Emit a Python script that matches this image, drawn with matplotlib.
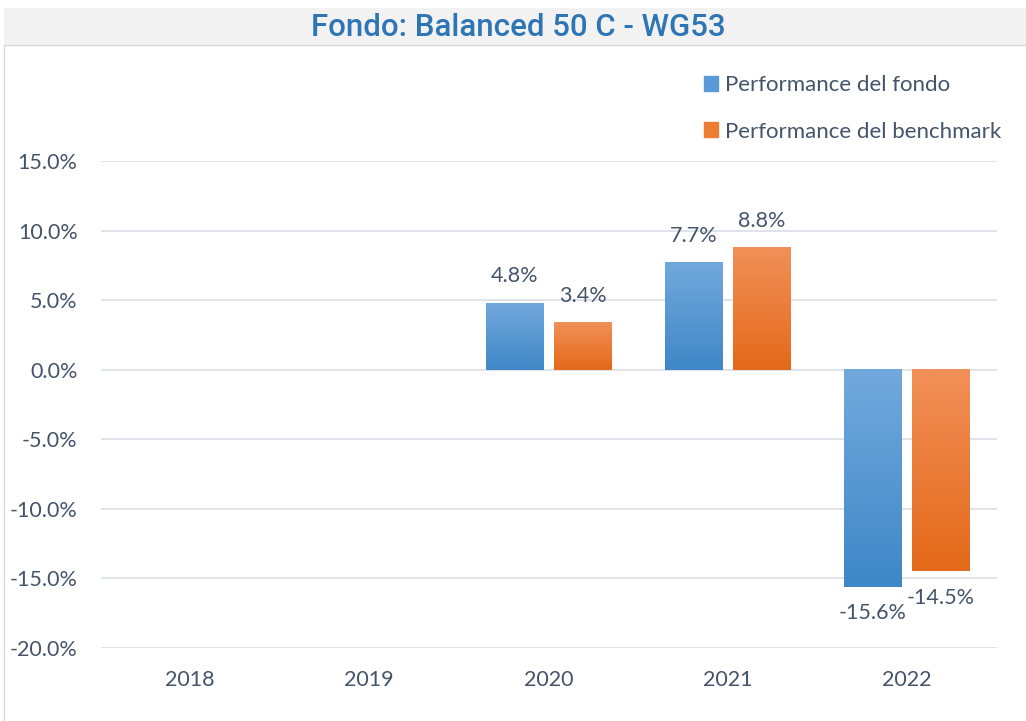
import numpy as np
import matplotlib.pyplot as plt
import matplotlib.patches as mpatches
from matplotlib.ticker import FuncFormatter
import matplotlib.colors as mcolors

years = ['2018', '2019', '2020', '2021', '2022']
fondo = [np.nan, np.nan, 4.8, 7.7, -15.6]
benchmark = [np.nan, np.nan, 3.4, 8.8, -14.5]
series_names = ['Performance del fondo', 'Performance del benchmark']

txt = '#44546a'
plt.rcParams['font.family'] = ['Lato', 'DejaVu Sans']

fig = plt.figure(figsize=(10.26, 7.21), dpi=100)
# title band and chart border
fig.patches.append(mpatches.Rectangle((4/1026, 1-45/721), 1, 37/721, transform=fig.transFigure,
                                      facecolor='#f2f2f2', edgecolor='none', zorder=0))
fig.patches.append(mpatches.Rectangle((4/1026, -0.01), 1, 1-45/721+0.01, transform=fig.transFigure,
                                      facecolor='none', edgecolor='#d9d9d9', lw=1, zorder=0))
fig.text(0.505, 1-27/721, 'Fondo: Balanced 50 C - WG53', ha='center', va='center',
         fontsize=22.5, color='#2e75b6', family=['Roboto', 'DejaVu Sans'], fontweight='medium')

ax = fig.add_axes([100.5/1026, 1-648/721, 896/1026, 487/721])
x = np.arange(len(years))
w = 0.32
off = 0.19

def grad_bar(xc, val, c_top, c_bot):
    if np.isnan(val):
        return
    cmap = mcolors.LinearSegmentedColormap.from_list('g', [c_bot, c_top])
    g = np.linspace(0, 1, 100).reshape(-1, 1)
    ax.imshow(g, cmap=cmap, origin='lower', aspect='auto',
              extent=(xc - w/2, xc + w/2, min(0, val), max(0, val)), zorder=2)

for i in range(len(years)):
    grad_bar(x[i] - off, fondo[i], '#72a9dd', '#3f87c7')
    grad_bar(x[i] + off, benchmark[i], '#f19058', '#e4691a')
    for xc, v in ((x[i] - off, fondo[i]), (x[i] + off, benchmark[i])):
        if np.isnan(v):
            continue
        dy = 1.9 if v >= 0 else -1.9
        ax.text(xc, v + dy, f'{v:.1f}%', ha='center', va='center', fontsize=15.5, color=txt)

ax.set_xlim(-0.5, len(years) - 0.5)
ax.set_ylim(-20, 15)
ax.set_yticks(np.arange(-20, 16, 5))
ax.yaxis.set_major_formatter(FuncFormatter(lambda v, p: f'{v:.1f}%'))
ax.set_xticks(x)
ax.set_xticklabels(years)
ax.grid(axis='y', color='#dde1e8', lw=1.3, zorder=0)
ax.set_axisbelow(True)
for s in ax.spines.values():
    s.set_visible(False)
ax.tick_params(length=0, labelsize=15.5, colors=txt)
ax.tick_params(axis='y', pad=16.5)
ax.tick_params(axis='x', pad=16)

handles = [mpatches.Patch(color='#5b9bd5'), mpatches.Patch(color='#ed7d31')]
fig.legend(handles, series_names, loc='upper left', bbox_to_anchor=(684/1026, 1-55/721),
           frameon=False, fontsize=16, labelcolor=txt, handlelength=0.65, handleheight=0.65,
           handletextpad=0.3, labelspacing=1.2)

fig.savefig('out.png', dpi=100)
